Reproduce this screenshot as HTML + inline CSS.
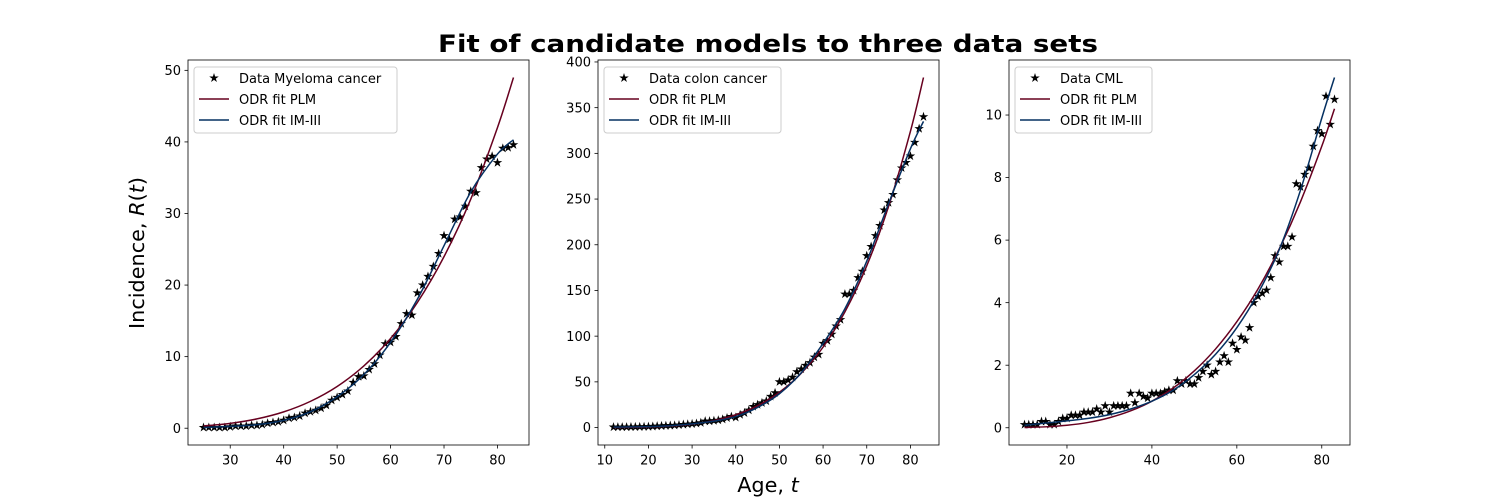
<!DOCTYPE html>
<html><head><meta charset="utf-8">
<style>
html,body{margin:0;padding:0;background:#fff;}
svg{display:block;font-family:"DejaVu Sans","Liberation Sans",sans-serif;}
</style></head>
<body>
<svg id="fig" width="1500" height="500" xmlns="http://www.w3.org/2000/svg">
  <text x="768" y="52" text-anchor="middle" font-size="24" font-weight="bold" textLength="660" lengthAdjust="spacingAndGlyphs">Fit of candidate models to three data sets</text>
  <text transform="translate(144,253) rotate(-90)" text-anchor="middle" font-size="20.8">Incidence, <tspan font-style="italic">R</tspan>(<tspan font-style="italic">t</tspan>)</text>
  <text x="768" y="492" text-anchor="middle" font-size="20.8">Age, <tspan font-style="italic">t</tspan></text>
</svg>
<script>
// ---------- Panel 1: Myeloma ----------
const myelomaAges = [25,26,27,28,29,30,31,32,33,34,35,36,37,38,39,40,41,42,43,44,45,46,47,48,49,50,51,52,53,54,55,56,57,58,59,60,61,62,63,64,65,66,67,68,69,70,71,72,73,74,75,76,77,78,79,80,81,82,83];
const myelomaData = [0.1,0.1,0.1,0.1,0.1,0.2,0.3,0.3,0.3,0.4,0.4,0.5,0.7,0.8,0.9,1.1,1.4,1.5,1.7,2.1,2.3,2.5,2.8,3.2,3.9,4.3,4.7,5.2,6.4,7.2,7.3,8.2,9.0,10.2,11.8,12.0,12.8,14.6,16.0,15.8,18.9,20.0,21.2,22.6,24.4,26.9,26.4,29.2,29.5,31.0,33.1,32.9,36.4,37.6,38.0,37.1,39.1,39.2,39.6];
const myelomaFitAges = [25,30,35,40,45,50,55,60,65,70,75,80,83];
const myelomaPLM = [0.32,0.68,1.30,2.28,3.75,5.83,8.70,12.54,17.55,23.97,32.0,42.0,49.0];
const myelomaIM3 = [0.1,0.25,0.5,1.1,2.3,4.4,7.5,12.0,18.0,25.5,33.0,38.3,40.3];
const myelomaYTicks = [0,10,20,30,40,50];
const myelomaXTicks = [30,40,50,60,70,80];

// ---------- Panel 2: Colon ----------
const colonAges = [12,13,14,15,16,17,18,19,20,21,22,23,24,25,26,27,28,29,30,31,32,33,34,35,36,37,38,39,40,41,42,43,44,45,46,47,48,49,50,51,52,53,54,55,56,57,58,59,60,61,62,63,64,65,66,67,68,69,70,71,72,73,74,75,76,77,78,79,80,81,82,83];
const colonData = [0.5,0.5,0.5,0.5,0.6,0.7,0.8,0.9,1,1.2,1.5,1.8,2,2.2,2.4,2.8,3.3,3.6,4,4.5,5.2,7,7,7.5,8,9,10.5,12,11,14,16,19,23,25,27,29,34,38,50,50,52,55,61,64,68,71,77,80,92,95,102,111,118,146,146,150,164,171,188,198,210,221,238,246,255,271,284,290,297,312,327,340];
const colonFitAges = [12,20,25,30,35,40,45,50,55,60,65,70,75,80,83];
const colonPLM = [0.06,0.61,1.67,3.81,7.66,14.0,23.9,38.6,59.4,88.0,126.6,177,242,324,383];
const colonIM3 = [0.5,1,2,4,7,12,22,37,60,92,130,182,245,305,335];
const colonYTicks = [0,50,100,150,200,250,300,350,400];
const colonXTicks = [10,20,30,40,50,60,70,80];

// ---------- Panel 3: CML ----------
const cmlAges = [10,11,12,13,14,15,16,17,18,19,20,21,22,23,24,25,26,27,28,29,30,31,32,33,34,35,36,37,38,39,40,41,42,43,44,45,46,47,48,49,50,51,52,53,54,55,56,57,58,59,60,61,62,63,64,65,66,67,68,69,70,71,72,73,74,75,76,77,78,79,80,81,82,83];
const cmlData = [0.1,0.1,0.1,0.1,0.2,0.2,0.1,0.1,0.2,0.3,0.3,0.4,0.4,0.4,0.5,0.5,0.5,0.6,0.5,0.7,0.5,0.7,0.7,0.7,0.7,1.1,0.8,1.1,1.0,0.95,1.1,1.1,1.1,1.15,1.2,1.2,1.5,1.4,1.5,1.4,1.4,1.6,1.8,2.0,1.7,1.8,2.1,2.3,2.1,2.7,2.5,2.9,2.8,3.2,4.0,4.2,4.3,4.4,4.8,5.5,5.3,5.8,5.8,6.1,7.8,7.7,8.1,8.3,9.0,9.5,9.4,10.6,9.7,10.5];
const cmlFitAges = [10,15,20,25,30,35,40,45,50,55,60,65,70,75,80,83];
const cmlPLM = [0.008,0.03,0.08,0.17,0.32,0.54,0.85,1.27,1.82,2.52,3.39,4.44,5.72,7.23,9.0,10.2];
const cmlIM3 = [0.08,0.15,0.22,0.3,0.42,0.6,0.85,1.2,1.7,2.35,3.2,4.3,5.7,7.6,9.9,11.2];
const cmlYTicks = [0,2,4,6,8,10];
const cmlXTicks = [20,40,60,80];

const NS = "http://www.w3.org/2000/svg";
const svg = document.getElementById('fig');
const PLM_COLOR = "#67001f", IM_COLOR = "#053061";

function mk(tag, attrs, parent) {
  const e = document.createElementNS(NS, tag);
  for (const k in attrs) e.setAttribute(k, attrs[k]);
  (parent || svg).appendChild(e);
  return e;
}
function starPts(cx, cy, r) {
  const pts = [];
  for (let i = 0; i < 10; i++) {
    const rr = i % 2 === 0 ? r : r * 0.382;
    const a = -Math.PI / 2 + i * Math.PI / 5;
    pts.push((cx + rr * Math.cos(a)).toFixed(2) + "," + (cy + rr * Math.sin(a)).toFixed(2));
  }
  return pts.join(" ");
}
function smoothPath(P) {
  let d = "M" + P[0][0] + "," + P[0][1];
  for (let i = 0; i < P.length - 1; i++) {
    const p0 = P[Math.max(0, i - 1)], p1 = P[i], p2 = P[i + 1], p3 = P[Math.min(P.length - 1, i + 2)];
    const c1x = p1[0] + (p2[0] - p0[0]) / 6, c1y = p1[1] + (p2[1] - p0[1]) / 6;
    const c2x = p2[0] - (p3[0] - p1[0]) / 6, c2y = p2[1] - (p3[1] - p1[1]) / 6;
    d += " C" + c1x + "," + c1y + " " + c2x + "," + c2y + " " + p2[0] + "," + p2[1];
  }
  return d;
}

function panel(key, left, ages, data, fitAges, plm, im3, yTicks, xTicks, label, legendW) {
  const top = 60, bottom = 445, right = left + 341;
  const allX = ages.concat(fitAges);
  const allY = data.concat(plm, im3);
  const xmin = Math.min(...allX), xmax = Math.max(...allX);
  const ymin = Math.min(...allY), ymax = Math.max(...allY);
  const xpad = (xmax - xmin) * 0.05, ypad = (ymax - ymin) * 0.05;
  const x0 = xmin - xpad, x1 = xmax + xpad, y0 = ymin - ypad, y1 = ymax + ypad;
  const sx = v => left + (v - x0) / (x1 - x0) * (right - left);
  const sy = v => bottom - (v - y0) / (y1 - y0) * (bottom - top);

  const g = mk('g', {});
  
  

  const clipId = 'clip-' + key;
  const cp = mk('clipPath', {id: clipId}, g);
  mk('rect', {x: left, y: top, width: right - left, height: bottom - top}, cp);

  yTicks.forEach(t => {
    const y = sy(t);
    const tk = mk('line', {x1: left - 3.5, x2: left, y1: y, y2: y, stroke: '#000', 'stroke-width': 0.8}, g);
    
    
    const tl = mk('text', {x: left - 7, y: y + 4.6, 'text-anchor': 'end', 'font-size': 13}, g);
    
    
    tl.textContent = t;
  });
  xTicks.forEach(t => {
    const x = sx(t);
    const tk = mk('line', {x1: x, x2: x, y1: bottom, y2: bottom + 3.5, stroke: '#000', 'stroke-width': 0.8}, g);
    
    
    const tl = mk('text', {x: x, y: bottom + 19.5, 'text-anchor': 'middle', 'font-size': 13}, g);
    
    
    tl.textContent = t;
  });

  const plot = mk('g', {'clip-path': 'url(#' + clipId + ')'}, g);
  
  

  ages.forEach((a, i) => {
    const s = mk('polygon', {points: starPts(sx(a), sy(data[i]), 5), fill: '#000'}, plot);
    
    
  });
  const lp = mk('path', {d: smoothPath(fitAges.map((a, i) => [sx(a), sy(plm[i])])), fill: 'none', stroke: PLM_COLOR, 'stroke-width': 1.5}, plot);
  
  
  const li = mk('path', {d: smoothPath(fitAges.map((a, i) => [sx(a), sy(im3[i])])), fill: 'none', stroke: IM_COLOR, 'stroke-width': 1.5}, plot);
  
  

  const fr = mk('rect', {x: left, y: top, width: right - left, height: bottom - top, fill: 'none', stroke: '#000', 'stroke-width': 0.8}, g);
  
  

  const lg = mk('g', {}, g);
  
  
  const lx = left + 6, ly = top + 7;
  mk('rect', {x: lx, y: ly, width: legendW, height: 66, rx: 3, fill: '#fff', 'fill-opacity': 0.8, stroke: '#cccccc', 'stroke-width': 1}, lg);
  const e1 = mk('polygon', {points: starPts(lx + 20, ly + 11, 5), fill: '#000'}, lg);
  
  
  const t1 = mk('text', {x: lx + 45, y: ly + 16, 'font-size': 13}, lg);
  
  
  t1.textContent = label;
  const e2 = mk('line', {x1: lx + 5, x2: lx + 35, y1: ly + 32, y2: ly + 32, stroke: PLM_COLOR, 'stroke-width': 1.5}, lg);
  
  
  const t2 = mk('text', {x: lx + 45, y: ly + 37, 'font-size': 13}, lg);
  
  
  t2.textContent = 'ODR fit PLM';
  const e3 = mk('line', {x1: lx + 5, x2: lx + 35, y1: ly + 53, y2: ly + 53, stroke: IM_COLOR, 'stroke-width': 1.5}, lg);
  
  
  const t3 = mk('text', {x: lx + 45, y: ly + 58, 'font-size': 13}, lg);
  
  
  t3.textContent = 'ODR fit IM-III';
}

panel('myeloma', 188, myelomaAges, myelomaData, myelomaFitAges, myelomaPLM, myelomaIM3, myelomaYTicks, myelomaXTicks, 'Data Myeloma cancer', 203);
panel('colon', 598, colonAges, colonData, colonFitAges, colonPLM, colonIM3, colonYTicks, colonXTicks, 'Data colon cancer', 177);
panel('cml', 1009, cmlAges, cmlData, cmlFitAges, cmlPLM, cmlIM3, cmlYTicks, cmlXTicks, 'Data CML', 137);
</script>
</body></html>
